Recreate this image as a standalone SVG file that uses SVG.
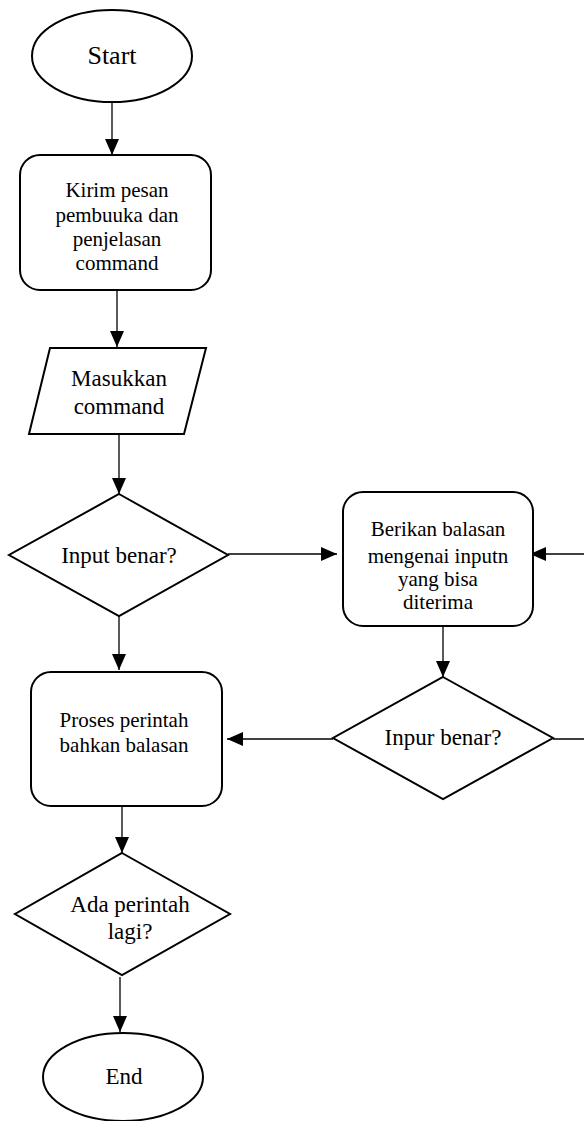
<svg xmlns="http://www.w3.org/2000/svg" width="584" height="1121" viewBox="0 0 584 1121">
<style>
.s{fill:#fff;stroke:#000;stroke-width:2}
.c{fill:none;stroke:#000;stroke-width:1.3}
.t{font-family:"Liberation Serif","Times New Roman",serif;fill:#000;text-anchor:middle}
.b{font-size:21px}
.m{font-size:23px}
.l{font-size:26px}
</style>
<defs>
<marker id="a" markerUnits="userSpaceOnUse" markerWidth="16" markerHeight="14" viewBox="0 0 16 14" refX="16" refY="7" orient="auto">
<path d="M0,0 L16,7 L0,14 z" fill="#000"/>
</marker>
</defs>
<rect width="584" height="1121" fill="#fff"/>
<g id="connectors">
<line class="c" x1="112" y1="102" x2="112" y2="155" marker-end="url(#a)"/>
<line class="c" x1="117" y1="290" x2="117" y2="347" marker-end="url(#a)"/>
<line class="c" x1="119" y1="434" x2="119" y2="494" marker-end="url(#a)"/>
<line class="c" x1="228" y1="554" x2="337" y2="554" marker-end="url(#a)"/>
<line class="c" x1="119" y1="616" x2="119" y2="670" marker-end="url(#a)"/>
<line class="c" x1="443" y1="626" x2="443" y2="677" marker-end="url(#a)"/>
<line class="c" x1="333" y1="739" x2="227" y2="739" marker-end="url(#a)"/>
<path class="c" d="M553,739 H592 V554"/>
<line class="c" x1="592" y1="554" x2="530" y2="554" marker-end="url(#a)"/>
<line class="c" x1="122" y1="806" x2="122" y2="853" marker-end="url(#a)"/>
<line class="c" x1="120" y1="977" x2="120" y2="1032" marker-end="url(#a)"/>
</g>
<g id="start">
<ellipse class="s" cx="112" cy="56" rx="80" ry="46"/>
<text class="t l" x="112" y="64">Start</text>
</g>
<g id="kirim">
<rect class="s" x="20" y="155" width="191" height="135" rx="20"/>
<text class="t b" x="117" y="197">Kirim pesan</text>
<text class="t b" x="117" y="222">pembuuka dan</text>
<text class="t b" x="117" y="246">penjelasan</text>
<text class="t b" x="117" y="270">command</text>
</g>
<g id="masukkan">
<polygon class="s" points="50,348 206,348 184,434 29,434"/>
<text class="t m" x="119" y="386">Masukkan</text>
<text class="t m" x="119" y="414">command</text>
</g>
<g id="input1">
<polygon class="s" points="119,494 228,555 119,616 9,555"/>
<text class="t m" x="119" y="563">Input benar?</text>
</g>
<g id="berikan">
<rect class="s" x="343" y="492" width="190" height="134" rx="20"/>
<text class="t b" x="438" y="536">Berikan balasan</text>
<text class="t b" x="438" y="563">mengenai inputn</text>
<text class="t b" x="438" y="586">yang bisa</text>
<text class="t b" x="438" y="609">diterima</text>
</g>
<g id="input2">
<polygon class="s" points="443,677 553,738 443,799 333,738"/>
<text class="t m" x="443" y="745">Inpur benar?</text>
</g>
<g id="proses">
<rect class="s" x="31" y="672" width="191" height="134" rx="20"/>
<text class="t b" x="124" y="727">Proses  perintah</text>
<text class="t b" x="124" y="752">bahkan balasan</text>
</g>
<g id="ada">
<polygon class="s" points="122,853 230,914 122,975 15,914"/>
<text class="t m" x="130" y="912">Ada perintah</text>
<text class="t m" x="130" y="939">lagi?</text>
</g>
<g id="end">
<ellipse class="s" cx="123" cy="1077" rx="80" ry="44"/>
<text class="t m" x="124" y="1084">End</text>
</g>
</svg>
